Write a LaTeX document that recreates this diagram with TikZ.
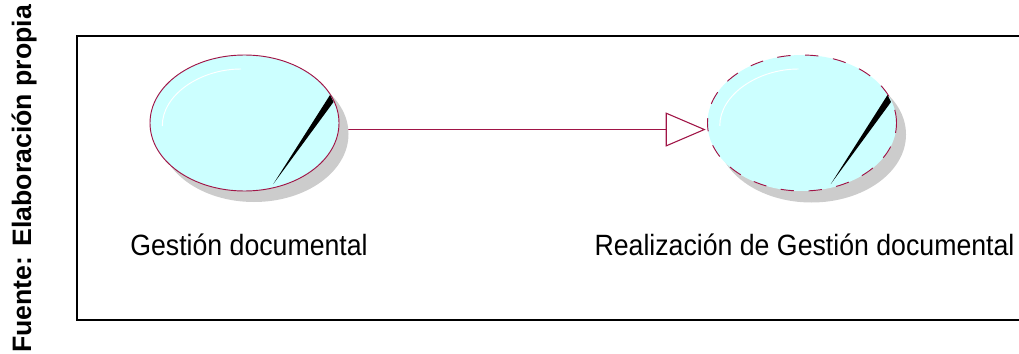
\documentclass[tikz,border=0pt]{standalone}
\usepackage{fontspec}
\setmainfont{Liberation Sans}
\usetikzlibrary{arrows.meta,backgrounds,shapes.geometric}
\definecolor{roseline}{RGB}{160,20,70}
\definecolor{rosefill}{RGB}{204,255,255}
\definecolor{roseshadow}{RGB}{204,204,204}
\begin{document}
\begin{tikzpicture}[x=0.75pt,y=-0.75pt]
	\tikzset{
		usecase/.style={ellipse,inner sep=0pt,minimum width=141.75pt,minimum height=102pt,fill=rosefill,draw=roseline,line width=0.7pt},
		dashed usecase/.style={usecase,draw=roseline,dashed,dash pattern=on 10pt off 11pt},
		case shadow/.style={ellipse,inner sep=0pt,minimum width=141.75pt,minimum height=102pt,fill=roseshadow},
		link/.style={line width=0.8pt,color=roseline,-{Triangle[open,length=30pt,width=25.5pt,fill=white]}},
		wedge/.style={fill=black},
		glint/.style={line width=0.7pt,color=white},
		label/.style={font=\fontsize{22pt}{26pt}\selectfont,inner sep=0pt,xscale=0.91,transform shape}
	}
	\useasboundingbox (0,0) rectangle (1019,353);
	\draw[line width=1.5pt] (1019,36.5) coordinate (frameNE) -- (77,36.5) -- (77,319.5) -- (1019,319.5);
	\node[case shadow] (gestionShadow) at (254,134) {};
	\node[case shadow] (realizacionShadow) at (811.5,134.5) {};
	\node[usecase] (gestion) at (244.5,123) {};
	\node[dashed usecase] (realizacion) at (802,123) {};
	\begin{scope}[on background layer]
		\draw[link] ([yshift=-4.9pt]gestion.center) -- ([xshift=-1pt,yshift=-4.9pt]realizacion.west);
	\end{scope}
	% highlight and wedge of each case
	\foreach \n/\dx in {gestion/0,realizacion/557.5}{
		\draw[glint] (162.3+\dx,126) .. controls (162+\dx,95) and (200+\dx,69) .. (241+\dx,69);
		\fill[wedge] (273.3+\dx,184) -- (330+\dx,95) -- (333.5+\dx,102) -- cycle;
	}
	\node[label,anchor=base] (gestionText) at (249,255.5) {Gestión documental};
	\node[label,anchor=base] (realizacionText) at (804.5,255.5) {Realización de Gestión documental};
	\node[rotate=90,anchor=base west,inner sep=0pt,font=\fontsize{20pt}{24pt}\selectfont\bfseries] (fuente) at (31,353) {Fuente: Elaboración propia};
\end{tikzpicture}
\end{document}
